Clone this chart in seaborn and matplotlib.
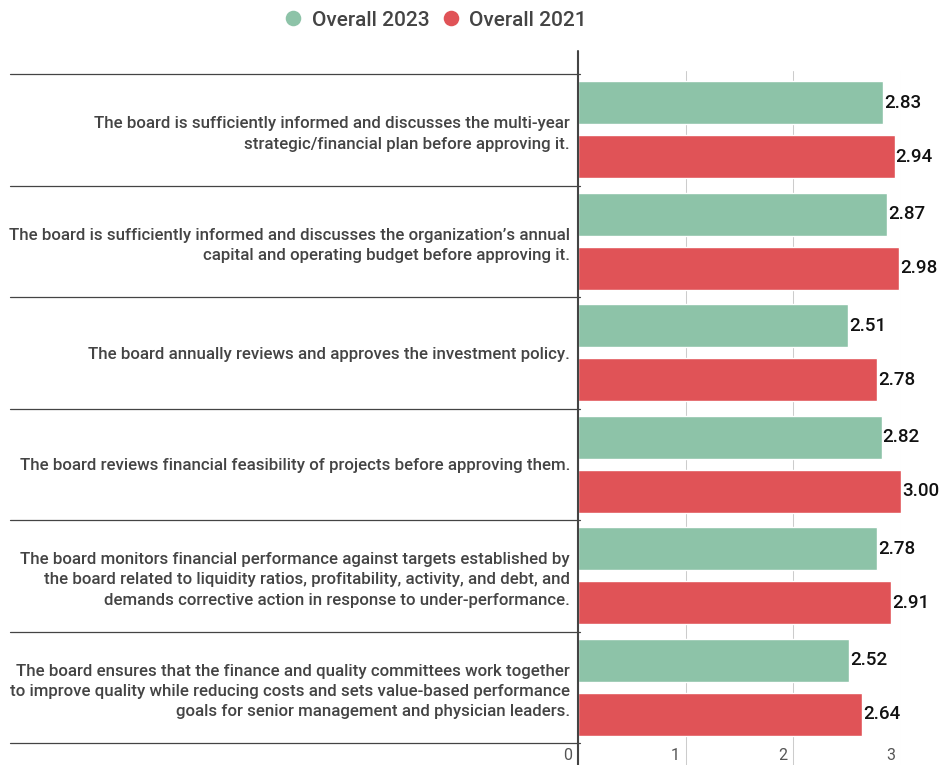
import matplotlib
matplotlib.use("Agg")
import matplotlib.pyplot as plt
from matplotlib import font_manager as fm
from matplotlib.lines import Line2D
from matplotlib.transforms import ScaledTranslation
import numpy as np
import pandas as pd
import seaborn as sns

# ---- data ----
categories = [
    "The board is sufficiently informed and discusses the multi-year\nstrategic/financial plan before approving it.",
    "The board is sufficiently informed and discusses the organization\u2019s annual\ncapital and operating budget before approving it.",
    "The board annually reviews and approves the investment policy.",
    "The board reviews financial feasibility of projects before approving them.",
    "The board monitors financial performance against targets established by\nthe board related to liquidity ratios, profitability, activity, and debt, and\ndemands corrective action in response to under-performance.",
    "The board ensures that the finance and quality committees work together\nto improve quality while reducing costs and sets value-based performance\ngoals for senior management and physician leaders.",
]
series_names = ["Overall 2023", "Overall 2021"]
overall_2023 = [2.83, 2.87, 2.51, 2.82, 2.78, 2.52]
overall_2021 = [2.94, 2.98, 2.78, 3.00, 2.91, 2.64]
x_ticks = [0, 1, 2, 3]
x_tick_labels = ["0", "1", "2", "3"]

colors = ["#8DC3A8", "#E05357"]

df = pd.DataFrame({
    "category": categories * 2,
    "series": [series_names[0]] * len(categories) + [series_names[1]] * len(categories),
    "score": overall_2023 + overall_2021,
})


def roboto(weight, size):
    """Regular-width Roboto at the given weight (falls back to family lookup)."""
    hits = [f for f in fm.fontManager.ttflist
            if f.name == "Roboto" and f.weight == weight
            and f.style == "normal" and f.stretch in ("normal", 400)]
    if hits:
        return fm.FontProperties(fname=hits[0].fname, size=size)
    return fm.FontProperties(family="Roboto", weight=weight, size=size)


# ---- figure ----
sns.set_theme(style="white")
plt.rcParams["font.family"] = ["Roboto", "DejaVu Sans"]

W, H, DPI = 942, 765, 100
fig = plt.figure(figsize=(W / DPI, H / DPI), dpi=DPI)
left_px, right_px, top_px, bottom_px = 578, 901, 71, 765
ax = fig.add_axes([left_px / W, 1 - bottom_px / H,
                   (right_px - left_px) / W, (bottom_px - top_px) / H])

sns.barplot(data=df, x="score", y="category", hue="series",
            hue_order=series_names, palette=colors, orient="h",
            width=0.97, gap=0.2, saturation=1, legend=False, ax=ax, zorder=2)

n = len(categories)
row_px = 111.5
ax.set_xlim(0, 3)
ax.set_ylim(n - 0.5 + 22 / row_px, -0.5 - 3 / row_px)

for s in ax.spines.values():
    s.set_visible(False)

# vertical gridlines
ax.set_axisbelow(True)
ax.xaxis.grid(True, color="#CCCCCC", linewidth=0.75)
ax.yaxis.grid(False)

# value axis line, rising a bit above the plot
ax.axvline(0, ymin=0, ymax=1 + 20 / (bottom_px - top_px), color="#444444",
           linewidth=1.5, clip_on=False, zorder=4)

# row separators across the label area
seps = np.arange(n + 1) - 0.5
ytr = ax.get_yaxis_transform()
x0 = (10 - left_px) / (right_px - left_px)
x1 = 2 / (right_px - left_px)
for y in seps:
    ax.plot([x0, x1], [y, y], transform=ytr, color="#444444",
            linewidth=0.9, clip_on=False, zorder=3)

# category labels
ax.set_ylabel("")
ax.set_xlabel("")
ax.tick_params(axis="y", length=0, pad=5.8, labelcolor="#444444")
cat_font = roboto(500, 12.2)
for lbl in ax.get_yticklabels():
    lbl.set_fontproperties(cat_font)
    lbl.set_horizontalalignment("right")
    lbl.set_multialignment("right")
    lbl.set_linespacing(1.45)

# value axis ticks
ax.set_xticks(x_ticks)
ax.set_xticklabels(x_tick_labels, ha="right", va="center")
ax.tick_params(axis="x", length=0, pad=-6.5, labelsize=11.5, labelcolor="#555555")
shift = ScaledTranslation(-6 / DPI, 0, fig.dpi_scale_trans)
for lbl in ax.get_xticklabels():
    lbl.set_transform(lbl.get_transform() + shift)

# value labels
val_font = roboto(500, 13.5)
for cont in ax.containers:
    ax.bar_label(cont, fmt="%.2f", padding=0.8, fontproperties=val_font,
                 color="#111111", clip_on=False)

# legend
handles = [Line2D([], [], marker="o", linestyle="", markersize=11.2,
                  markerfacecolor=c, markeredgewidth=0) for c in colors]
fig.legend(handles, series_names, loc="center", bbox_to_anchor=(436 / W, 1 - 20 / H),
           ncol=2, frameon=False, prop=roboto(500, 15), labelcolor="#444444",
           handlelength=0.8, handletextpad=0.5, columnspacing=0.6, borderpad=0)

fig.savefig("out.png", dpi=DPI)
